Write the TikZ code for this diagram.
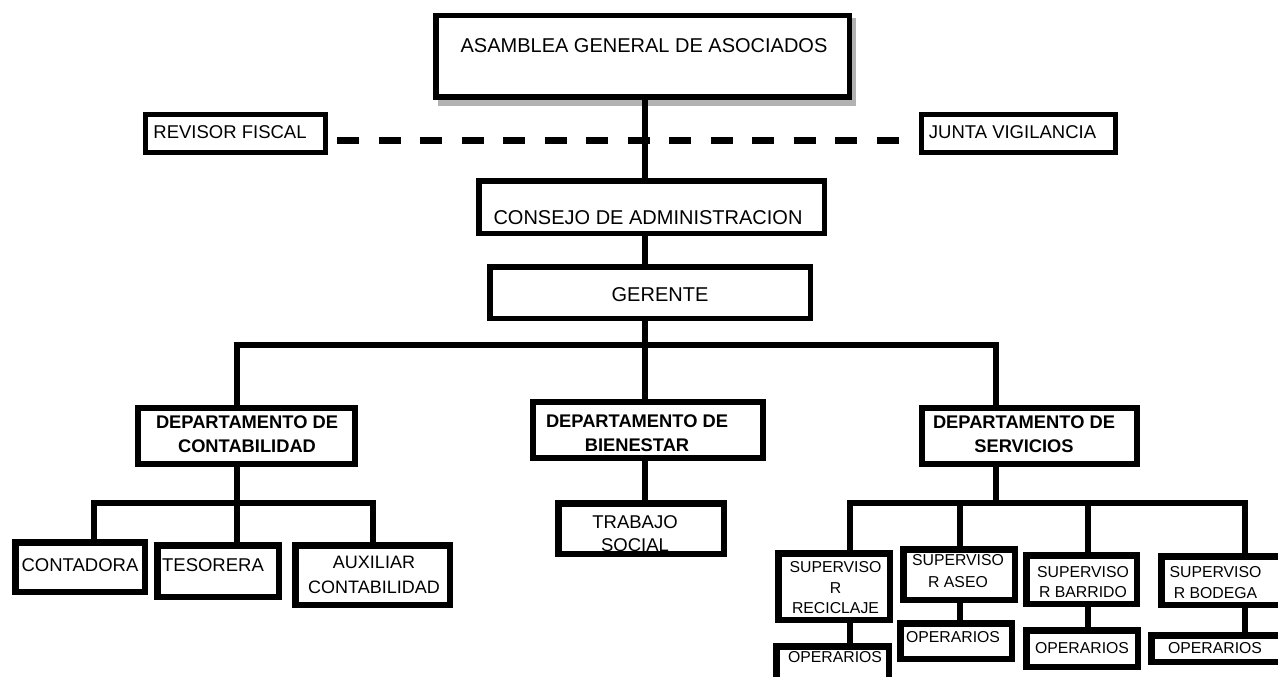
\documentclass[tikz,border=0pt]{standalone}
\usepackage{fontspec}
\setmainfont{Liberation Sans}
\begin{document}
\begin{tikzpicture}[x=1pt,y=-1pt,
  bx/.style={draw, inner sep=0pt, line width=#1, line join=miter},
  conn/.style={line width=6pt, line cap=rect, line join=miter},
  dashline/.style={line width=7pt, dash pattern=on 22pt off 19.5pt},
  big/.style={inner sep=0pt, font=\fontsize{20}{24}\selectfont},
  mid/.style={inner sep=0pt, align=center, font=\fontsize{18.5}{25}\selectfont},
  dept/.style={inner sep=0pt, align=center, font=\bfseries\fontsize{18.3}{24}\selectfont},
  small/.style={inner sep=0pt, align=center, font=\fontsize{15.8}{20.5}\selectfont}]
\useasboundingbox (0,0) rectangle (1278,677);
\clip (0,0) rectangle (1278,677);

% ---------- top levels ----------
\node[fill=black!30, inner sep=0pt, minimum width=418pt, minimum height=88pt] (asamShadow) at (647,62) {};
\node[bx=5.5pt, fill=white, minimum width=413.5pt, minimum height=81.5pt] (asamblea) at (642.5,56.5) {};
\node[big] (tasamblea) at (644,46) {ASAMBLEA GENERAL DE ASOCIADOS};

\node[mid] (trevisor) at (230,132) {REVISOR FISCAL};
\node[bx=5pt, minimum width=180pt, minimum height=38pt] (revisor) at (235.5,133.5) {};
\node[mid] (tjunta) at (1012.5,132) {JUNTA VIGILANCIA};
\node[bx=5pt, minimum width=194pt, minimum height=38pt] (junta) at (1018.5,133.5) {};

\coordinate (dashL) at (337,140);
\coordinate (dashR) at (899,140);
\draw[dashline] (dashL) -- (dashR);

\node[big] (tconsejo) at (648,218) {CONSEJO DE ADMINISTRACION};
\node[bx=5.5pt, minimum width=345.5pt, minimum height=52.5pt] (consejo) at (651.5,207) {};
\node[big] (tgerente) at (660,295) {GERENTE};
\node[bx=5.5pt, minimum width=320.5pt, minimum height=51.5pt] (gerente) at (650,292.5) {};

% spine
\coordinate (spine) at (645,345);
\draw[line width=6pt] (spine |- asamblea.south) -- (spine |- consejo.north);
\draw[line width=6pt] (spine |- consejo.south) -- (spine |- gerente.north);
\draw[conn] (spine |- gerente.south) -- (spine);

% main bar
\coordinate (barL) at (237,345);
\coordinate (barR) at (996,345);
\draw[conn] (barL) -- (barR);

% ---------- departments ----------
\node[dept] (tcontab) at (247,434) {DEPARTAMENTO DE\\CONTABILIDAD};
\node[bx=6pt, minimum width=217pt, minimum height=56pt] (contab) at (246.5,436) {};
\node[dept] (tbienestar) at (637,433.5) {DEPARTAMENTO DE\\BIENESTAR};
\node[bx=6pt, minimum width=230pt, minimum height=56pt] (bienestar) at (648,430) {};
\node[dept] (tservicios) at (1024,434) {DEPARTAMENTO DE\\SERVICIOS};
\node[bx=6pt, minimum width=215pt, minimum height=56pt] (servicios) at (1029.5,436) {};

\draw[conn] (barL) -- (barL |- contab.north);
\draw[conn] (spine) -- (spine |- bienestar.north);
\draw[conn] (barR) -- (barR |- servicios.north);

% ---------- contabilidad ----------
\node[mid] (tcontadora) at (80,565) {CONTADORA};
\node[bx=6.5pt, minimum width=129.5pt, minimum height=49.5pt] (contadora) at (80,567) {};
\node[mid] (ttesorera) at (213,565) {TESORERA};
\node[bx=6.5pt, minimum width=121.5pt, minimum height=51.5pt] (tesorera) at (218,571) {};
\node[mid, font=\fontsize{18}{25}\selectfont] (tauxiliar) at (374,574.5) {AUXILIAR\\CONTABILIDAD};
\node[bx=6.5pt, minimum width=154.5pt, minimum height=59.5pt] (auxiliar) at (372.5,575) {};

\coordinate (cbL) at (94,503);
\coordinate (cbM) at (237,503);
\coordinate (cbR) at (373,503);
\draw[conn] (barL |- contab.south) -- (cbM);
\draw[conn] (cbL |- contadora.north) -- (cbL) -- (cbR) -- (cbR |- auxiliar.north);
\draw[conn] (cbM) -- (cbM |- tesorera.north);

% ---------- bienestar ----------
\node[mid, font=\fontsize{18.5}{23}\selectfont] (ttrabajo) at (635,533.5) {TRABAJO\\SOCIAL};
\node[bx=6.5pt, minimum width=165.5pt, minimum height=50.5pt] (trabajo) at (641,528.5) {};
\draw[conn] (spine |- bienestar.south) -- (spine |- trabajo.north);

% ---------- servicios ----------
\node[small] (treciclaje) at (835.5,588) {SUPERVISO\\R\\RECICLAJE};
\node[bx=6.5pt, minimum width=111.5pt, minimum height=66.5pt] (reciclaje) at (834,586.5) {};
\node[small] (top1) at (835,657) {OPERARIOS};
\node[bx=6.5pt, minimum width=112.5pt, minimum height=40.5pt] (op1) at (832.5,666.5) {};

\node[small, font=\fontsize{15.8}{22}\selectfont] (taseo) at (958,571) {SUPERVISO\\R ASEO};
\node[bx=6.5pt, minimum width=111.5pt, minimum height=50.5pt] (aseo) at (959,574.5) {};
\node[small] (top2) at (953,637) {OPERARIOS};
\node[bx=6.5pt, minimum width=111.5pt, minimum height=35.5pt] (op2) at (956,641) {};

\node[small, font=\fontsize{15.8}{20}\selectfont] (tbarrido) at (1083,582) {SUPERVISO\\R BARRIDO};
\node[bx=6.5pt, minimum width=110.5pt, minimum height=48.5pt] (barrido) at (1081.5,579.5) {};
\node[small] (top3) at (1082,648) {OPERARIOS};
\node[bx=6.5pt, minimum width=111.5pt, minimum height=36.5pt] (op3) at (1082,648.5) {};

\node[small, font=\fontsize{15.8}{21}\selectfont] (tbodega) at (1215.5,582.5) {SUPERVISO\\R BODEGA};
\node[bx=6.5pt, minimum width=125.5pt, minimum height=48.5pt] (bodega) at (1224,580.5) {};
\node[small] (top4) at (1215,648) {OPERARIOS};
\node[bx=6.5pt, minimum width=135.5pt, minimum height=26.5pt] (op4) at (1219,648.5) {};

\coordinate (sbA) at (850,503);
\coordinate (sbB) at (960,503);
\coordinate (sbC) at (1088,503);
\coordinate (sbD) at (1245,503);
\coordinate (sbM) at (996,503);
\draw[conn] (barR |- servicios.south) -- (sbM);
\draw[conn] (sbA |- reciclaje.north) -- (sbA) -- (sbD) -- (sbD |- bodega.north);
\draw[conn] (sbB) -- (sbB |- aseo.north);
\draw[conn] (sbC) -- (sbC |- barrido.north);

\draw[conn] (sbA |- reciclaje.south) -- (sbA |- op1.north);
\draw[conn] (sbB |- aseo.south) -- (sbB |- op2.north);
\draw[conn] (sbC |- barrido.south) -- (sbC |- op3.north);
\draw[conn] (sbD |- bodega.south) -- (sbD |- op4.north);
\end{tikzpicture}
\end{document}
